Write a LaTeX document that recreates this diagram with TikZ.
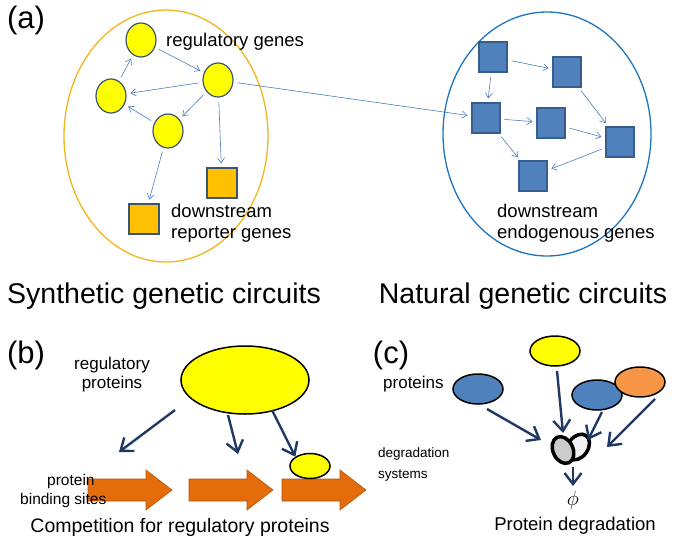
\documentclass[tikz,border=0pt]{standalone}
\usepackage{fontspec}
\setmainfont{Liberation Sans}
\usetikzlibrary{shapes.geometric,arrows.meta}
\definecolor{yel}{HTML}{FFFF00}
\definecolor{gbd}{HTML}{3A5670}
\definecolor{org}{HTML}{FFC000}
\definecolor{sqb}{HTML}{4F81BD}
\definecolor{sqbd}{HTML}{385D8A}
\definecolor{thin}{HTML}{4A7EBB}
\definecolor{ring1}{HTML}{F2B61E}
\definecolor{ring2}{HTML}{1F74C0}
\definecolor{navy}{HTML}{1F3864}
\definecolor{oarr}{HTML}{E46C0A}
\definecolor{oprot}{HTML}{F79646}
\newcommand\myblockarrow[2]{\fill[oarr,draw=oarr!80!black,line width=0.6pt] (#1,#2-11) -- (#1+58,#2-11) -- (#1+58,#2-20) -- (#1+84,#2) -- (#1+58,#2+20) -- (#1+58,#2+11) -- (#1,#2+11) -- cycle;}
\begin{document}
\begin{tikzpicture}[x=1pt,y=-1pt,
 gene/.style={ellipse,draw=gbd,line width=1.2pt,fill=yel,minimum width=30,minimum height=34,inner sep=0},
 osq/.style={rectangle,draw=gbd,line width=1.2pt,fill=org,minimum width=30,minimum height=30,inner sep=0},
 bsq/.style={rectangle,draw=sqbd,line width=1.2pt,fill=sqb,minimum width=28,minimum height=30,inner sep=0},
 ta/.style={draw=thin,line width=0.6pt,-{Straight Barb[length=5pt,width=7pt]},shorten <=4pt,shorten >=4pt},
 na/.style={draw=navy,line width=2.4pt,-{Straight Barb[length=11pt,width=17pt,line width=2.4pt]}},
 lbl/.style={font=\fontsize{18.5}{21}\selectfont,align=left,inner sep=0},
 big/.style={font=\fontsize{28.5}{32}\selectfont,inner sep=0},
 pl/.style={font=\fontsize{31}{34}\selectfont,inner sep=0},
 prot/.style={ellipse,draw=black,line width=1.5pt,minimum width=50,minimum height=30,inner sep=0}]
\useasboundingbox (0,0) rectangle (685,544);
% (a)
\node[pl] (la) at (26,20) {(a)};
\node[ellipse,draw=ring1,line width=1.3pt,minimum width=204,minimum height=252,inner sep=0] (e1) at (166,136) {};
\node[ellipse,draw=ring2,line width=1.3pt,minimum width=208,minimum height=244,inner sep=0] (e2) at (547,134) {};
\node[gene] (c1) at (141,40) {};
\node[gene] (c2) at (218,80) {};
\node[gene] (c3) at (111,96) {};
\node[gene] (c4) at (168,131) {};
\node[osq] (s1) at (222,183) {};
\node[osq] (s2) at (144,219) {};
\node[lbl,anchor=west] (t1) at (166,42) {regulatory genes};
\node[lbl,anchor=west] (t2) at (171,223) {downstream\\reporter genes};
\node[bsq] (b1) at (493,57) {};
\node[bsq] (b2) at (567,72) {};
\node[bsq] (b3) at (486,118) {};
\node[bsq] (b4) at (551,123) {};
\node[bsq] (b5) at (620,142) {};
\node[bsq] (b6) at (533,176) {};
\node[lbl,anchor=west] (t3) at (497,223) {downstream\\endogenous genes};
\draw[ta] (c1) -- (c2);
\draw[ta] (c3) -- (c1);
\draw[ta] (c2) -- (c3);
\draw[ta] (c2) -- (c4);
\draw[ta] (c4) -- (c3);
\draw[ta] (c2) -- (s1);
\draw[ta] (c4) -- (s2);
\draw[ta] (c2) -- (b3);
\draw[ta] (b1) -- (b2);
\draw[ta] (b1) -- (b3);
\draw[ta] (b3) -- (b4);
\draw[ta] (b2) -- (b5);
\draw[ta] (b3) -- (b6);
\draw[ta] (b4) -- (b5);
\draw[ta] (b5) -- (b6);
\node[big] (T1) at (164,296) {Synthetic genetic circuits};
\node[big] (T2) at (523,296) {Natural genetic circuits};
% (b)
\node[pl] (lb) at (26,355) {(b)};
\node[lbl,align=center,font=\fontsize{17}{19}\selectfont] (rp) at (112,375) {regulatory\\proteins};
\node[ellipse,draw=black,line width=1.5pt,fill=yel,minimum width=128,minimum height=68,inner sep=0] (rb) at (245,380) {};
\myblockarrow{88}{490}
\myblockarrow{189}{490}
\myblockarrow{282}{490}
\node[ellipse,draw=black,line width=1.5pt,fill=yel,minimum width=40,minimum height=25,inner sep=0] (sb) at (310,466) {};
\node[lbl,align=left,anchor=west,font=\fontsize{15.5}{19}\selectfont] (pb) at (20,491) {\hspace*{27pt}protein\\binding sites};
\coordinate (o1) at (175,410);
\coordinate (d1) at (119,452);
\coordinate (o2) at (228,415);
\coordinate (d2) at (238,454);
\coordinate (o3) at (272,410);
\draw[na] (o1) -- (d1);
\draw[na] (o2) -- (d2);
\draw[na] (o3) -- (sb.north west);
\node[font=\fontsize{19.5}{22}\selectfont,inner sep=0] (cb) at (180,527) {Competition for regulatory proteins};
% (c)
\node[pl] (lc) at (391,355) {(c)};
\node[lbl,anchor=west,font=\fontsize{17}{19}\selectfont] (pr) at (383,384) {proteins};
\node[prot,fill=yel] (p1) at (555,351) {};
\node[prot,fill=sqb] (p2) at (478,389) {};
\node[prot,fill=sqb] (p3) at (597,395) {};
\node[prot,fill=oprot] (p4) at (640,382) {};
\node[font=\fontsize{13.5}{21}\selectfont,align=left,anchor=west,inner sep=0] (ds) at (378,465) {degradation\\systems};
\draw[line width=3.5pt,fill=white!90!gray,rotate around={-35:(578,447)}] (578,447) ellipse (10 and 14);
\draw[line width=3.5pt,fill=gray!40,rotate around={25:(563,450)}] (563,450) ellipse (10 and 14);
\coordinate (g1) at (541,440);
\coordinate (g2) at (563,433);
\coordinate (g3) at (588,440);
\coordinate (g4) at (607,447);
\draw[na] (487,409) -- (g1);
\draw[na] (557,371) -- (g2);
\draw[na] (602,412) -- (g3);
\draw[na] (655,399) -- (g4);
\coordinate (dbot) at (573,467);
\coordinate (dend) at (573,486);
\draw[na] (dbot) -- (dend);
\node[font=\fontsize{22}{24}\selectfont,inner sep=0] (phi) at (573,500) {$\phi$};
\node[font=\fontsize{18.5}{21}\selectfont,inner sep=0] (pd) at (575,526) {Protein degradation};
\end{tikzpicture}
\end{document}
